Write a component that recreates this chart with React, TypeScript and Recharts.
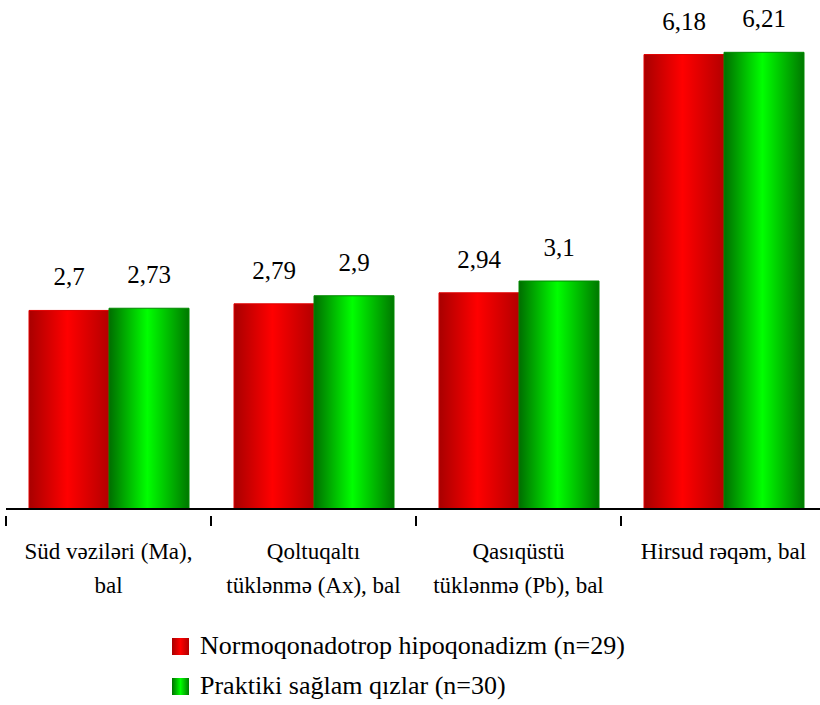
import React from 'react';
import { BarChart, Bar, XAxis, YAxis, LabelList } from 'recharts';

const categories = [
  ['Süd vəziləri (Ma),', 'bal'],
  ['Qoltuqaltı', 'tüklənmə (Ax), bal'],
  ['Qasıqüstü', 'tüklənmə (Pb), bal'],
  ['Hirsud rəqəm, bal'],
];
const normoValues = [2.7, 2.79, 2.94, 6.18];
const healthyValues = [2.73, 2.9, 3.1, 6.21];
const seriesNames = ['Normoqonadotrop hipoqonadizm (n=29)', 'Praktiki sağlam qızlar (n=30)'];

const data = categories.map((lines, i) => ({
  name: lines.join(' '),
  normo: normoValues[i],
  healthy: healthyValues[i],
}));

const FONT = "'Liberation Serif', 'Times New Roman', 'DejaVu Serif', serif";

const fmt = (v: any) => String(v).replace('.', ',');

// category labels plus tick marks at the band edges
const CategoryTick = (props: any) => {
  const { x, y, payload, index } = props;
  const lines = categories[payload.index ?? index] || [payload.value];
  const half = payload.offset || 0;
  const last = (payload.index ?? index) === categories.length - 1;
  return (
    <g>
      <line x1={x - half} x2={x - half} y1={y - 1} y2={y + 9} stroke="#000" strokeWidth={2} />
      {last && <line x1={x + half} x2={x + half} y1={y - 1} y2={y + 9} stroke="#000" strokeWidth={2} />}
      {lines.map((l, i) => (
        <text key={i} x={x} y={y + 42 + i * 34} textAnchor="middle" style={{ fontFamily: FONT }} fontSize={23} fill="#000">
          {l}
        </text>
      ))}
    </g>
  );
};

const LegendBox = () => (
  <div style={{ position: 'absolute', left: 172, top: 626, fontFamily: FONT, fontSize: 26, color: '#000' }}>
    {seriesNames.map((n, i) => (
      <div key={n} style={{ display: 'flex', alignItems: 'center', height: 40, whiteSpace: 'nowrap' }}>
        <span
          style={{
            width: 17,
            height: 17,
            marginRight: 11,
            background: i === 0
              ? 'linear-gradient(to right, #a80000, #ff0000 50%, #b00000)'
              : 'linear-gradient(to right, #007000, #00ff00 50%, #007a00)',
          }}
        />
        <span>{n}</span>
      </div>
    ))}
  </div>
);

export default function App() {
  return (
    <div style={{ position: 'absolute', left: 0, top: 0, width: 820, height: 705, overflow: 'hidden', background: '#fff', fontFamily: FONT }}>
      <BarChart
        width={826}
        height={705}
        data={data}
        margin={{ top: 31, right: 0, left: 6, bottom: 0 }}
        barGap={0}
        barCategoryGap={23}
        style={{ fontFamily: FONT }}
      >
        <defs>
          <linearGradient id="redGrad" x1="0" y1="0" x2="1" y2="0">
            <stop offset="0%" stopColor="#a80000" />
            <stop offset="48%" stopColor="#ff0000" />
            <stop offset="100%" stopColor="#b40000" />
          </linearGradient>
          <linearGradient id="greenGrad" x1="0" y1="0" x2="1" y2="0">
            <stop offset="0%" stopColor="#006e00" />
            <stop offset="48%" stopColor="#00ff00" />
            <stop offset="100%" stopColor="#007800" />
          </linearGradient>
        </defs>
        <XAxis
          dataKey="name"
          axisLine={{ stroke: '#000', strokeWidth: 2 }}
          tickLine={false}
          tick={<CategoryTick />}
          interval={0}
          height={196}
        />
        <YAxis hide domain={[0, 6.5]} />
        <Bar dataKey="normo" name={seriesNames[0]} fill="url(#redGrad)" stroke="#e00000" strokeWidth={1} isAnimationActive={false}>
          <LabelList dataKey="normo" position="top" offset={25} formatter={fmt} style={{ fontFamily: FONT, fontSize: 25, fill: '#000' }} />
        </Bar>
        <Bar dataKey="healthy" name={seriesNames[1]} fill="url(#greenGrad)" stroke="#008a00" strokeWidth={1} isAnimationActive={false}>
          <LabelList dataKey="healthy" position="top" offset={25} formatter={fmt} style={{ fontFamily: FONT, fontSize: 25, fill: '#000' }} />
        </Bar>
      </BarChart>
      <LegendBox />
    </div>
  );
}
